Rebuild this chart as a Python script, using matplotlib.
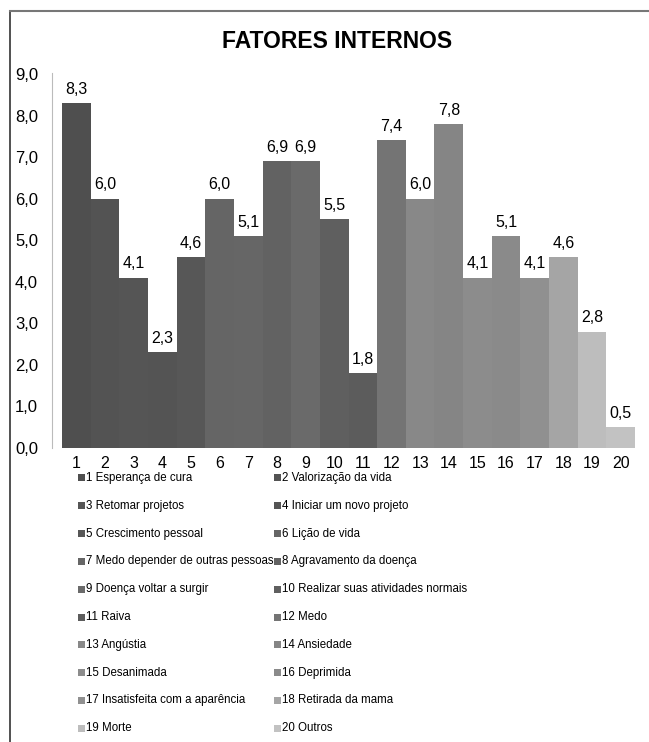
import matplotlib
matplotlib.use("Agg")
import matplotlib.pyplot as plt
from matplotlib.patches import Rectangle
from matplotlib.lines import Line2D

plt.rcParams['font.family'] = ['Liberation Sans', 'DejaVu Sans']

# Data
categories = [str(i) for i in range(1, 21)]
values = [8.3, 6.0, 4.1, 2.3, 4.6, 6.0, 5.1, 6.9, 6.9, 5.5,
          1.8, 7.4, 6.0, 7.8, 4.1, 5.1, 4.1, 4.6, 2.8, 0.5]
labels = ["1 Esperança de cura", "2 Valorização da vida",
          "3 Retomar projetos", "4 Iniciar um novo projeto",
          "5 Crescimento pessoal", "6 Lição de vida",
          "7 Medo depender de outras pessoas", "8 Agravamento da doença",
          "9 Doença voltar a surgir", "10 Realizar suas atividades normais",
          "11 Raiva", "12 Medo",
          "13 Angústia", "14 Ansiedade",
          "15 Desanimada", "16 Deprimida",
          "17 Insatisfeita com a aparência", "18 Retirada da mama",
          "19 Morte", "20 Outros"]
colors = ["#4f4f4f", "#535353", "#555555", "#545454", "#575757",
          "#656565", "#666666", "#626262", "#6a6a6a", "#5f5f5f",
          "#5c5c5c", "#747474", "#888888", "#858585", "#8c8c8c",
          "#8a8a8a", "#909090", "#a5a5a5", "#bdbdbd", "#c2c2c2"]
yticks = [0, 1, 2, 3, 4, 5, 6, 7, 8, 9]

W, H = 649, 742
fig = plt.figure(figsize=(W / 100, H / 100), dpi=100)
fig.patch.set_facecolor("white")

ax = fig.add_axes([52 / W, 1 - 448 / H, 583 / W, 374 / H])
x = list(range(1, 21))
ax.bar(x, values, width=1.0, color=colors, linewidth=0)
ax.set_xlim(0.15, 20.5)
ax.set_ylim(0, 9)

for xi, v in zip(x, values):
    ax.annotate(f"{v:.1f}".replace(".", ","), (xi, v), xytext=(0, 4.5),
                textcoords="offset points", ha="center", va="bottom",
                fontsize=11.5)

ax.set_yticks(yticks)
ax.set_yticklabels([f"{t:.1f}".replace(".", ",") for t in yticks], fontsize=12)
ax.set_xticks(x)
ax.set_xticklabels(categories, fontsize=11.5)
ax.tick_params(axis="y", length=0, pad=10)
ax.tick_params(axis="x", length=0, pad=6)
for s in ["top", "right", "bottom"]:
    ax.spines[s].set_visible(False)
ax.spines["left"].set_color("#bbbbbb")
ax.spines["left"].set_bounds(0, 9.02)

fig.text(337 / W, 1 - 42 / H, "FATORES INTERNOS", ha="center", va="center",
         fontsize=16.5, fontweight="bold")

# Legend in two columns
col_x = [78, 274]
row_y0, row_dy = 478, 27.8
sq = 7
for i, (lab, c) in enumerate(zip(labels, colors)):
    col = i % 2
    row = i // 2
    cx = col_x[col]
    cy = row_y0 + row * row_dy
    fig.patches.append(Rectangle((cx / W, 1 - (cy + sq / 2) / H), sq / W, sq / H,
                                 transform=fig.transFigure, facecolor=c,
                                 edgecolor="none"))
    fig.text((cx + sq + 1.5) / W, 1 - cy / H, lab, ha="left", va="center",
             fontsize=8.3)

# Outer frame
fig.lines.append(Line2D([10 / W, 10 / W], [0, 1 - 11 / H], transform=fig.transFigure,
                        color="#333333", linewidth=1.2))
fig.lines.append(Line2D([10 / W, 1], [1 - 11 / H, 1 - 11 / H], transform=fig.transFigure,
                        color="#777777", linewidth=1.5))

fig.savefig("out.png", dpi=100)
